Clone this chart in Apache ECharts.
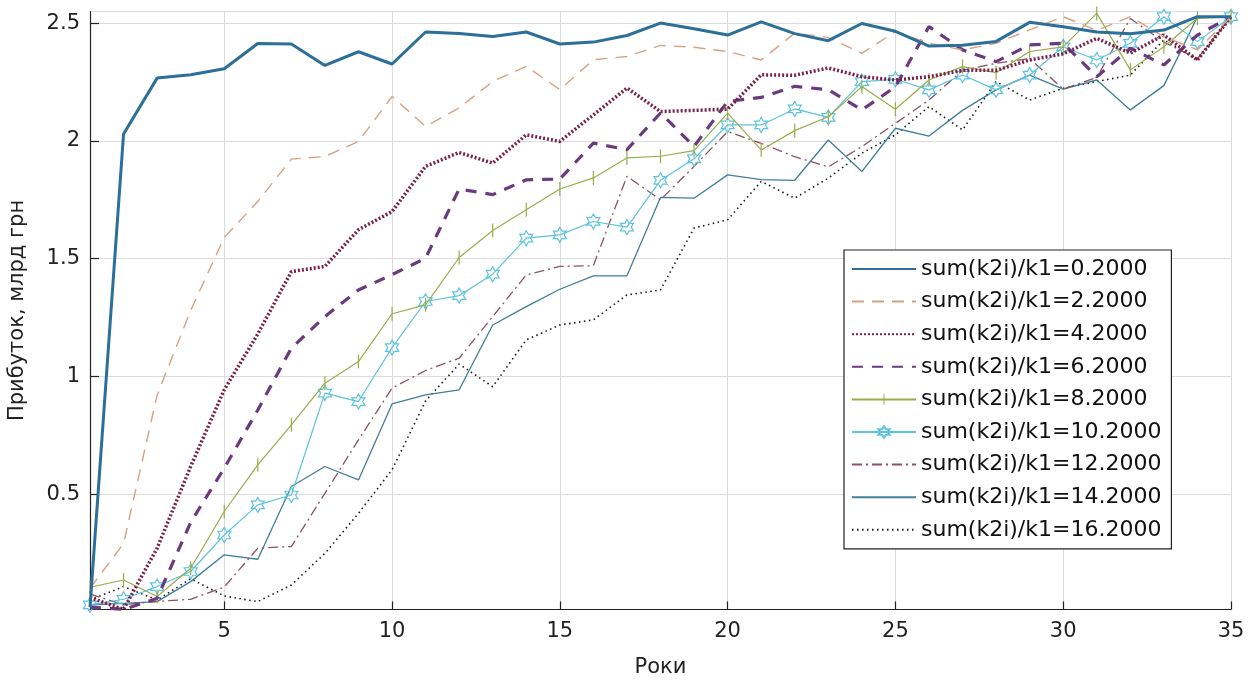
<!DOCTYPE html>
<html>
<head>
<meta charset="utf-8">
<script src="https://cdn.jsdelivr.net/npm/echarts@6/dist/echarts.min.js"></script>
<style>html,body{margin:0;padding:0;background:#fff;}#c{width:1258px;height:682px;}</style>
</head>
<body>
<div id="c"></div>
<script>
const years = Array.from({length: 35}, (_, i) => i + 1);
const legendNames = [
  'sum(k2i)/k1=0.2000','sum(k2i)/k1=2.2000','sum(k2i)/k1=4.2000','sum(k2i)/k1=6.2000',
  'sum(k2i)/k1=8.2000','sum(k2i)/k1=10.2000','sum(k2i)/k1=12.2000','sum(k2i)/k1=14.2000','sum(k2i)/k1=16.2000'
];
const s02 = [0.02,2.03,2.267,2.281,2.307,2.414,2.412,2.321,2.379,2.327,2.463,2.457,2.444,2.463,2.412,2.42,2.448,2.501,2.477,2.45,2.506,2.456,2.426,2.499,2.466,2.403,2.407,2.423,2.504,2.485,2.463,2.455,2.471,2.528,2.528];
const s22 = [0.1,0.29,0.92,1.28,1.59,1.743,1.923,1.934,1.998,2.189,2.062,2.14,2.253,2.317,2.218,2.345,2.359,2.406,2.398,2.38,2.344,2.458,2.44,2.372,2.465,2.415,2.387,2.415,2.472,2.528,2.47,2.528,2.443,2.387,2.528];
const s42 = [0.06,0.01,0.27,0.617,0.943,1.18,1.445,1.467,1.623,1.70,1.892,1.951,1.906,2.026,1.998,2.111,2.225,2.125,2.13,2.135,2.281,2.279,2.31,2.273,2.259,2.273,2.30,2.30,2.344,2.37,2.436,2.373,2.45,2.344,2.528];
const s62 = [0.02,0.01,0.057,0.38,0.61,0.857,1.12,1.254,1.367,1.432,1.502,1.796,1.772,1.835,1.838,1.991,1.963,2.119,1.977,2.168,2.185,2.232,2.218,2.132,2.23,2.486,2.387,2.337,2.408,2.415,2.273,2.394,2.323,2.45,2.528];
const s82 = [0.104,0.135,0.065,0.185,0.426,0.624,0.794,0.971,1.063,1.266,1.304,1.505,1.62,1.708,1.796,1.843,1.928,1.935,1.959,2.118,1.962,2.044,2.103,2.231,2.135,2.259,2.316,2.29,2.38,2.40,2.542,2.302,2.40,2.521,2.528];
const s102 = [0.029,0.053,0.107,0.171,0.326,0.454,0.496,0.929,0.893,1.122,1.318,1.343,1.434,1.587,1.601,1.658,1.634,1.833,1.924,2.068,2.068,2.136,2.10,2.252,2.262,2.217,2.28,2.217,2.28,2.40,2.344,2.415,2.528,2.422,2.528];
const s122 = [0.075,0.03,0.044,0.053,0.105,0.27,0.277,0.503,0.73,0.95,1.025,1.077,1.254,1.431,1.467,1.47,1.85,1.75,1.892,2.04,1.99,1.933,1.89,1.976,2.075,2.174,2.30,2.33,2.35,2.22,2.27,2.52,2.42,2.35,2.528];
const s142 = [0.029,0.036,0.043,0.128,0.242,0.223,0.532,0.617,0.56,0.883,0.921,0.943,1.218,1.296,1.37,1.427,1.427,1.76,1.757,1.856,1.836,1.833,2.004,1.87,2.054,2.021,2.13,2.217,2.28,2.22,2.259,2.132,2.235,2.528,2.528];
const s162 = [0.05,0.107,0.05,0.14,0.067,0.043,0.114,0.248,0.418,0.603,0.896,1.052,0.956,1.155,1.218,1.24,1.346,1.367,1.63,1.665,1.828,1.757,1.842,1.948,2.026,2.146,2.047,2.252,2.174,2.224,2.252,2.28,2.43,2.344,2.528];
const xTitle = 'Роки';
const yTitle = 'Прибуток, млрд грн';

const seriesValues = [s02,s22,s42,s62,s82,s102,s122,s142,s162];
const styles = [
  {color:'#2c6f98', width:3, type:'solid'},
  {color:'#d6a283', width:1.4, type:[12,8]},
  {color:'#7a2049', width:3.5, type:[2,2]},
  {color:'#6b3a7e', width:3.2, type:[11,9]},
  {color:'#98ad4c', width:1.2, type:'solid'},
  {color:'#5cc3e0', width:1.2, type:'solid'},
  {color:'#8d5163', width:1.3, type:[10,4,2,4]},
  {color:'#3f7f98', width:1.3, type:'solid'},
  {color:'#1a1a1a', width:1.6, type:[1.5,3.5]}
];
const hexagram = 'path://M0,-10L-2.89,-5L-8.66,-5L-5.77,0L-8.66,5L-2.89,5L0,10L2.89,5L8.66,5L5.77,0L8.66,-5L2.89,-5Z';
const vbar = 'path://M0,0L0.01,0L0,0.01Z M14,14L13.99,14L14,13.99Z M6.4,0H7.6V14H6.4Z';

const series = seriesValues.map((vals, i) => {
  const st = styles[i];
  const s = {
    name: legendNames[i],
    type: 'line',
    data: years.map((x, k) => [x, vals[k]]),
    lineStyle: {color: st.color, width: st.width, type: st.type},
    itemStyle: {color: st.color},
    symbol: 'none',
    animation: false,
    z: 10 - i
  };
  if (i === 4) {
    s.symbol = vbar;
    s.symbolSize = 14;
  }
  if (i === 5) {
    s.symbol = hexagram;
    s.symbolSize = 15;
    s.symbolKeepAspect = true;
    s.itemStyle = {color: 'rgba(255,255,255,0)', borderColor: st.color, borderWidth: 1.2};
  }
  return s;
});

const legendData = legendNames.map((n, i) => {
  const d = {name: n};
  if (i !== 4 && i !== 5) d.itemStyle = {opacity: 0};
  return d;
});

const chart = echarts.init(document.getElementById('c'), null, {renderer: 'canvas'});
chart.setOption({
  backgroundColor: '#ffffff',
  animation: false,
  grid: {left: 90, right: 27, top: 11.5, bottom: 72.6, containLabel: false, outerBoundsMode: 'none'},
  xAxis: {
    type: 'value', min: 1, max: 35,
    name: xTitle, nameLocation: 'middle', nameGap: 48, nameMoveOverlap: false,
    nameTextStyle: {fontFamily: 'DejaVu Sans', fontSize: 21, color: '#222'},
    axisLine: {show: true, onZero: false, lineStyle: {color: '#222', width: 1.2}},
    axisTick: {show: true, inside: true, length: 8, lineStyle: {color: '#222', width: 1.2}},
    axisLabel: {showMinLabel: false, fontFamily: 'DejaVu Sans', fontSize: 21, color: '#222', margin: 12},
    splitLine: {show: true, lineStyle: {color: '#dcdcdc', width: 1}}
  },
  yAxis: {
    type: 'value', min: 0.01, max: 2.55,
    name: yTitle, nameLocation: 'middle', nameGap: 62, nameMoveOverlap: false,
    nameTextStyle: {fontFamily: 'DejaVu Sans', fontSize: 21, color: '#222'},
    axisLine: {show: true, onZero: false, lineStyle: {color: '#222', width: 1.2}},
    axisTick: {show: true, inside: true, length: 9, lineStyle: {color: '#222', width: 1.2}},
    axisLabel: {showMinLabel: false, showMaxLabel: false, fontFamily: 'DejaVu Sans', fontSize: 21, color: '#222', margin: 10},
    splitLine: {show: true, lineStyle: {color: '#dcdcdc', width: 1}}
  },
  legend: {
    orient: 'vertical', left: 844, top: 250,
    data: legendData,
    backgroundColor: '#ffffff',
    borderColor: '#222', borderWidth: 1.2,
    padding: [7, 10, 7, 7],
    itemWidth: 64, itemHeight: 14, itemGap: 8.6,
    textStyle: {fontFamily: 'DejaVu Sans', fontSize: 22, lineHeight: 24, color: '#111'},
    selectedMode: false
  },
  series: series
});
</script>
</body>
</html>
